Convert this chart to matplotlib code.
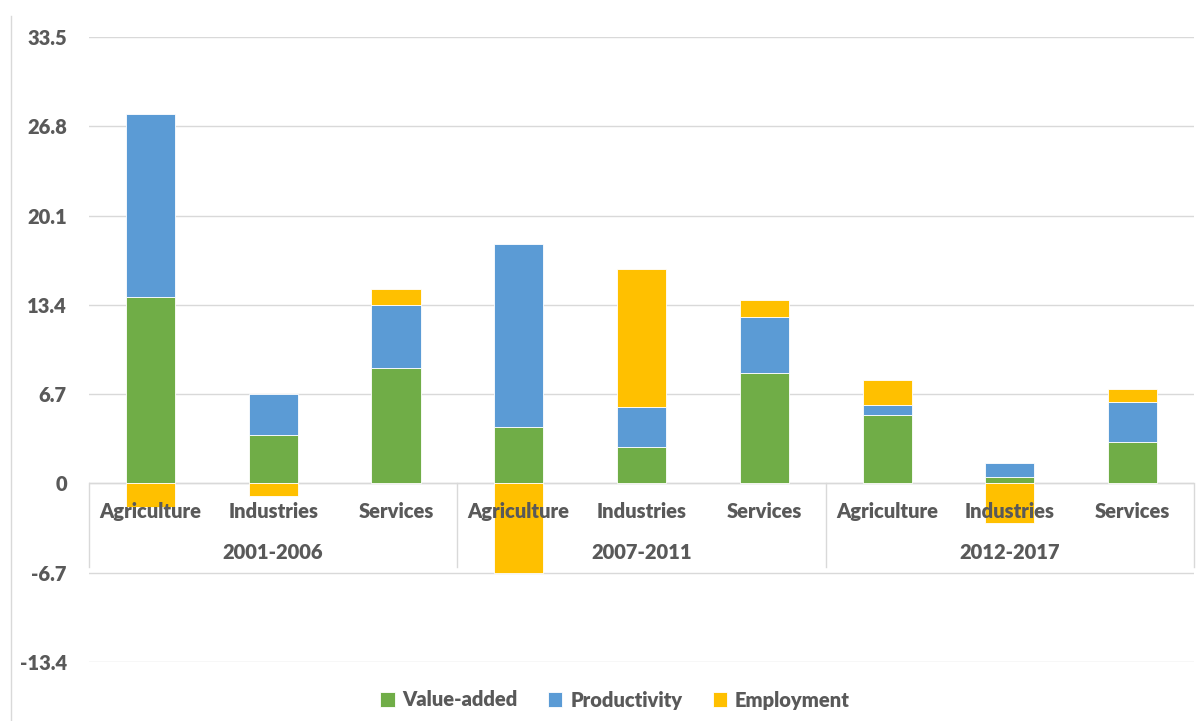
import matplotlib
matplotlib.use("Agg")
import matplotlib.pyplot as plt
import matplotlib.lines as mlines
import numpy as np

plt.rcParams['font.family'] = ['Lato', 'DejaVu Sans']
plt.rcParams['font.weight'] = 'heavy'

groups = ["2001-2006", "2007-2011", "2012-2017"]
sectors = ["Agriculture", "Industries", "Services"]
value_added = [14.0, 3.65, 8.66, 4.2, 2.73, 8.3, 5.1, 0.5, 3.08]
productivity = [13.75, 3.05, 4.72, 13.78, 2.97, 4.18, 0.75, 1.03, 3.0]
employment = [-1.8, -0.97, 1.2, -6.7, 10.38, 1.32, 1.88, -3.0, 1.0]
yticks = [-13.4, -6.7, 0, 6.7, 13.4, 20.1, 26.8, 33.5]

series = [("Value-added", value_added, "#70AD47"),
          ("Productivity", productivity, "#5B9BD5"),
          ("Employment", employment, "#FFC000")]

W, H = 1196, 721
fig = plt.figure(figsize=(W/100, H/100), dpi=100)
x0, x1 = 89, 1194
y_top, y_bot = 37, 662
ax = fig.add_axes([x0/W, 1 - y_bot/H, (x1-x0)/W, (y_bot-y_top)/H])

n = len(value_added)
x = np.arange(n)
pos = np.zeros(n)
neg = np.zeros(n)
handles = []
for name, vals, col in series:
    v = np.array(vals)
    bottoms = np.where(v >= 0, pos, neg)
    b = ax.bar(x, v, bottom=bottoms, width=0.4, color=col, edgecolor='white',
               linewidth=0.6, label=name, zorder=3)
    handles.append(b)
    pos = pos + np.where(v >= 0, v, 0)
    neg = neg + np.where(v < 0, v, 0)

ax.set_xlim(-0.5, n - 0.5)
ax.set_ylim(yticks[0], yticks[-1])
ax.set_yticks(yticks)
ax.set_yticklabels([("%g" % t) if t != 0 else "0" for t in yticks])
ax.tick_params(axis='y', length=0, pad=16, labelsize=14.5, labelcolor='#595959')
ax.tick_params(axis='x', length=0, labelbottom=False)
ax.grid(axis='y', color='#D9D9D9', linewidth=1, zorder=0)
for s in ax.spines.values():
    s.set_visible(False)

# category axis line and separators
ax.axhline(0, color='#D9D9D9', linewidth=1, zorder=2)
for k in range(len(groups) + 1):
    xs = -0.5 + 3 * k
    ax.plot([xs, xs], [0, -6.3], color='#D9D9D9', linewidth=1, zorder=2, clip_on=False)

labels = [s for g in groups for s in sectors]
for i, lab in enumerate(labels):
    ax.text(i, -2.1, lab, ha='center', va='center', fontsize=14.5,
            color='#595959', zorder=4)
for g, name in enumerate(groups):
    ax.text(3 * g + 1, -5.2, name, ha='center', va='center', fontsize=14.5,
            color='#595959', zorder=4)

# left border line
fig.add_artist(mlines.Line2D([11/W, 11/W], [0, 1 - 16/H], color='#D9D9D9', linewidth=1))

leg = fig.legend(handles=handles, loc='center', bbox_to_anchor=(615/W, 1 - 700/H),
                 ncol=3, frameon=False, fontsize=14.5, handlelength=0.7, handleheight=0.7,
                 handletextpad=0.4, columnspacing=1.5)
for t in leg.get_texts():
    t.set_color('#595959')

fig.savefig("out.png", dpi=100)
